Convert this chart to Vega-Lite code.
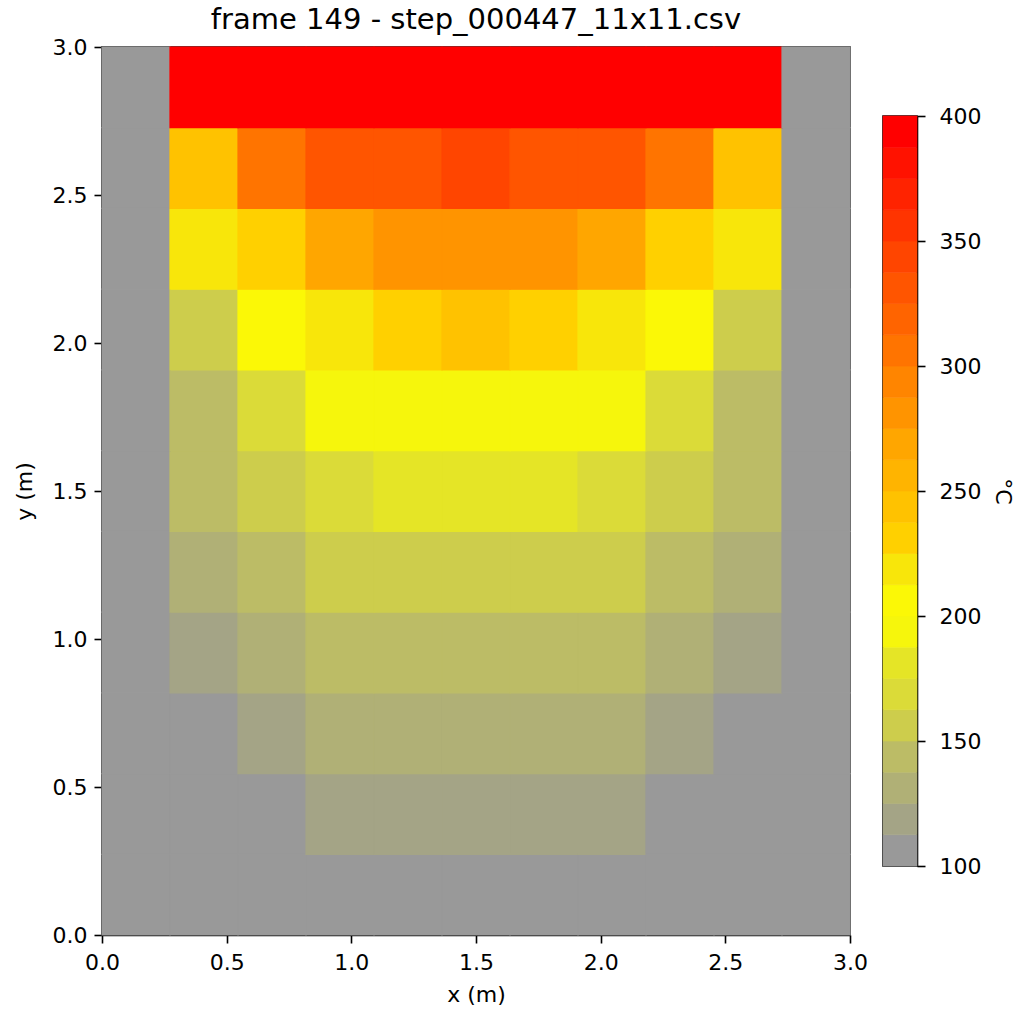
{
  "$schema": "https://vega.github.io/schema/vega-lite/v6.json",
  "background": "white",
  "padding": {"left": 12, "top": 5, "right": 5, "bottom": 5},
  "bounds": "flush",
  "center": true,
  "spacing": 33,
  "config": {
    "font": "DejaVu Sans",
    "view": {"stroke": "#000", "strokeWidth": 1.6},
    "axis": {
      "grid": false,
      "domainColor": "#000",
      "domainWidth": 1.6,
      "tickColor": "#000",
      "tickWidth": 1.6,
      "tickSize": 8,
      "labelFontSize": 22,
      "labelColor": "#000",
      "labelPadding": 7,
      "labelFlush": false,
      "labelOverlap": false,
      "labelBound": false,
      "titleFontSize": 22,
      "titleFontWeight": "normal",
      "titleColor": "#000"
    }
  },
  "hconcat": [
    {
      "title": {"text": "frame 149 - step_000447_11x11.csv", "fontSize": 29, "fontWeight": "normal", "color": "#000", "offset": 1},
      "width": 748,
      "height": 888,
      "data": {"values": [
        {"xa":0,"xb":0.2727,"ya":0,"yb":0.2727,"t":100},{"xa":0.2727,"xb":0.5455,"ya":0,"yb":0.2727,"t":100},{"xa":0.5455,"xb":0.8182,"ya":0,"yb":0.2727,"t":100},{"xa":0.8182,"xb":1.0909,"ya":0,"yb":0.2727,"t":100},{"xa":1.0909,"xb":1.3636,"ya":0,"yb":0.2727,"t":100},{"xa":1.3636,"xb":1.6364,"ya":0,"yb":0.2727,"t":100},{"xa":1.6364,"xb":1.9091,"ya":0,"yb":0.2727,"t":100},{"xa":1.9091,"xb":2.1818,"ya":0,"yb":0.2727,"t":100},{"xa":2.1818,"xb":2.4545,"ya":0,"yb":0.2727,"t":100},{"xa":2.4545,"xb":2.7273,"ya":0,"yb":0.2727,"t":100},{"xa":2.7273,"xb":3,"ya":0,"yb":0.2727,"t":100},
        {"xa":0,"xb":0.2727,"ya":0.2727,"yb":0.5455,"t":100},{"xa":0.2727,"xb":0.5455,"ya":0.2727,"yb":0.5455,"t":100},{"xa":0.5455,"xb":0.8182,"ya":0.2727,"yb":0.5455,"t":100},{"xa":0.8182,"xb":1.0909,"ya":0.2727,"yb":0.5455,"t":118},{"xa":1.0909,"xb":1.3636,"ya":0.2727,"yb":0.5455,"t":118},{"xa":1.3636,"xb":1.6364,"ya":0.2727,"yb":0.5455,"t":118},{"xa":1.6364,"xb":1.9091,"ya":0.2727,"yb":0.5455,"t":118},{"xa":1.9091,"xb":2.1818,"ya":0.2727,"yb":0.5455,"t":118},{"xa":2.1818,"xb":2.4545,"ya":0.2727,"yb":0.5455,"t":100},{"xa":2.4545,"xb":2.7273,"ya":0.2727,"yb":0.5455,"t":100},{"xa":2.7273,"xb":3,"ya":0.2727,"yb":0.5455,"t":100},
        {"xa":0,"xb":0.2727,"ya":0.5455,"yb":0.8182,"t":100},{"xa":0.2727,"xb":0.5455,"ya":0.5455,"yb":0.8182,"t":100},{"xa":0.5455,"xb":0.8182,"ya":0.5455,"yb":0.8182,"t":118},{"xa":0.8182,"xb":1.0909,"ya":0.5455,"yb":0.8182,"t":131},{"xa":1.0909,"xb":1.3636,"ya":0.5455,"yb":0.8182,"t":131},{"xa":1.3636,"xb":1.6364,"ya":0.5455,"yb":0.8182,"t":131},{"xa":1.6364,"xb":1.9091,"ya":0.5455,"yb":0.8182,"t":131},{"xa":1.9091,"xb":2.1818,"ya":0.5455,"yb":0.8182,"t":131},{"xa":2.1818,"xb":2.4545,"ya":0.5455,"yb":0.8182,"t":118},{"xa":2.4545,"xb":2.7273,"ya":0.5455,"yb":0.8182,"t":100},{"xa":2.7273,"xb":3,"ya":0.5455,"yb":0.8182,"t":100},
        {"xa":0,"xb":0.2727,"ya":0.8182,"yb":1.0909,"t":100},{"xa":0.2727,"xb":0.5455,"ya":0.8182,"yb":1.0909,"t":118},{"xa":0.5455,"xb":0.8182,"ya":0.8182,"yb":1.0909,"t":131},{"xa":0.8182,"xb":1.0909,"ya":0.8182,"yb":1.0909,"t":143},{"xa":1.0909,"xb":1.3636,"ya":0.8182,"yb":1.0909,"t":143},{"xa":1.3636,"xb":1.6364,"ya":0.8182,"yb":1.0909,"t":143},{"xa":1.6364,"xb":1.9091,"ya":0.8182,"yb":1.0909,"t":143},{"xa":1.9091,"xb":2.1818,"ya":0.8182,"yb":1.0909,"t":143},{"xa":2.1818,"xb":2.4545,"ya":0.8182,"yb":1.0909,"t":131},{"xa":2.4545,"xb":2.7273,"ya":0.8182,"yb":1.0909,"t":118},{"xa":2.7273,"xb":3,"ya":0.8182,"yb":1.0909,"t":100},
        {"xa":0,"xb":0.2727,"ya":1.0909,"yb":1.3636,"t":100},{"xa":0.2727,"xb":0.5455,"ya":1.0909,"yb":1.3636,"t":131},{"xa":0.5455,"xb":0.8182,"ya":1.0909,"yb":1.3636,"t":143},{"xa":0.8182,"xb":1.0909,"ya":1.0909,"yb":1.3636,"t":156},{"xa":1.0909,"xb":1.3636,"ya":1.0909,"yb":1.3636,"t":156},{"xa":1.3636,"xb":1.6364,"ya":1.0909,"yb":1.3636,"t":156},{"xa":1.6364,"xb":1.9091,"ya":1.0909,"yb":1.3636,"t":156},{"xa":1.9091,"xb":2.1818,"ya":1.0909,"yb":1.3636,"t":156},{"xa":2.1818,"xb":2.4545,"ya":1.0909,"yb":1.3636,"t":143},{"xa":2.4545,"xb":2.7273,"ya":1.0909,"yb":1.3636,"t":131},{"xa":2.7273,"xb":3,"ya":1.0909,"yb":1.3636,"t":100},
        {"xa":0,"xb":0.2727,"ya":1.3636,"yb":1.6364,"t":100},{"xa":0.2727,"xb":0.5455,"ya":1.3636,"yb":1.6364,"t":143},{"xa":0.5455,"xb":0.8182,"ya":1.3636,"yb":1.6364,"t":156},{"xa":0.8182,"xb":1.0909,"ya":1.3636,"yb":1.6364,"t":168},{"xa":1.0909,"xb":1.3636,"ya":1.3636,"yb":1.6364,"t":181},{"xa":1.3636,"xb":1.6364,"ya":1.3636,"yb":1.6364,"t":181},{"xa":1.6364,"xb":1.9091,"ya":1.3636,"yb":1.6364,"t":181},{"xa":1.9091,"xb":2.1818,"ya":1.3636,"yb":1.6364,"t":168},{"xa":2.1818,"xb":2.4545,"ya":1.3636,"yb":1.6364,"t":156},{"xa":2.4545,"xb":2.7273,"ya":1.3636,"yb":1.6364,"t":143},{"xa":2.7273,"xb":3,"ya":1.3636,"yb":1.6364,"t":100},
        {"xa":0,"xb":0.2727,"ya":1.6364,"yb":1.9091,"t":100},{"xa":0.2727,"xb":0.5455,"ya":1.6364,"yb":1.9091,"t":143},{"xa":0.5455,"xb":0.8182,"ya":1.6364,"yb":1.9091,"t":168},{"xa":0.8182,"xb":1.0909,"ya":1.6364,"yb":1.9091,"t":194},{"xa":1.0909,"xb":1.3636,"ya":1.6364,"yb":1.9091,"t":194},{"xa":1.3636,"xb":1.6364,"ya":1.6364,"yb":1.9091,"t":194},{"xa":1.6364,"xb":1.9091,"ya":1.6364,"yb":1.9091,"t":194},{"xa":1.9091,"xb":2.1818,"ya":1.6364,"yb":1.9091,"t":194},{"xa":2.1818,"xb":2.4545,"ya":1.6364,"yb":1.9091,"t":168},{"xa":2.4545,"xb":2.7273,"ya":1.6364,"yb":1.9091,"t":143},{"xa":2.7273,"xb":3,"ya":1.6364,"yb":1.9091,"t":100},
        {"xa":0,"xb":0.2727,"ya":1.9091,"yb":2.1818,"t":100},{"xa":0.2727,"xb":0.5455,"ya":1.9091,"yb":2.1818,"t":156},{"xa":0.5455,"xb":0.8182,"ya":1.9091,"yb":2.1818,"t":206},{"xa":0.8182,"xb":1.0909,"ya":1.9091,"yb":2.1818,"t":219},{"xa":1.0909,"xb":1.3636,"ya":1.9091,"yb":2.1818,"t":231},{"xa":1.3636,"xb":1.6364,"ya":1.9091,"yb":2.1818,"t":244},{"xa":1.6364,"xb":1.9091,"ya":1.9091,"yb":2.1818,"t":231},{"xa":1.9091,"xb":2.1818,"ya":1.9091,"yb":2.1818,"t":219},{"xa":2.1818,"xb":2.4545,"ya":1.9091,"yb":2.1818,"t":206},{"xa":2.4545,"xb":2.7273,"ya":1.9091,"yb":2.1818,"t":156},{"xa":2.7273,"xb":3,"ya":1.9091,"yb":2.1818,"t":100},
        {"xa":0,"xb":0.2727,"ya":2.1818,"yb":2.4545,"t":100},{"xa":0.2727,"xb":0.5455,"ya":2.1818,"yb":2.4545,"t":219},{"xa":0.5455,"xb":0.8182,"ya":2.1818,"yb":2.4545,"t":231},{"xa":0.8182,"xb":1.0909,"ya":2.1818,"yb":2.4545,"t":269},{"xa":1.0909,"xb":1.3636,"ya":2.1818,"yb":2.4545,"t":281},{"xa":1.3636,"xb":1.6364,"ya":2.1818,"yb":2.4545,"t":281},{"xa":1.6364,"xb":1.9091,"ya":2.1818,"yb":2.4545,"t":281},{"xa":1.9091,"xb":2.1818,"ya":2.1818,"yb":2.4545,"t":269},{"xa":2.1818,"xb":2.4545,"ya":2.1818,"yb":2.4545,"t":231},{"xa":2.4545,"xb":2.7273,"ya":2.1818,"yb":2.4545,"t":219},{"xa":2.7273,"xb":3,"ya":2.1818,"yb":2.4545,"t":100},
        {"xa":0,"xb":0.2727,"ya":2.4545,"yb":2.7273,"t":100},{"xa":0.2727,"xb":0.5455,"ya":2.4545,"yb":2.7273,"t":244},{"xa":0.5455,"xb":0.8182,"ya":2.4545,"yb":2.7273,"t":306},{"xa":0.8182,"xb":1.0909,"ya":2.4545,"yb":2.7273,"t":331},{"xa":1.0909,"xb":1.3636,"ya":2.4545,"yb":2.7273,"t":331},{"xa":1.3636,"xb":1.6364,"ya":2.4545,"yb":2.7273,"t":344},{"xa":1.6364,"xb":1.9091,"ya":2.4545,"yb":2.7273,"t":331},{"xa":1.9091,"xb":2.1818,"ya":2.4545,"yb":2.7273,"t":331},{"xa":2.1818,"xb":2.4545,"ya":2.4545,"yb":2.7273,"t":306},{"xa":2.4545,"xb":2.7273,"ya":2.4545,"yb":2.7273,"t":244},{"xa":2.7273,"xb":3,"ya":2.4545,"yb":2.7273,"t":100},
        {"xa":0,"xb":0.2727,"ya":2.7273,"yb":3,"t":100},{"xa":0.2727,"xb":0.5455,"ya":2.7273,"yb":3,"t":400},{"xa":0.5455,"xb":0.8182,"ya":2.7273,"yb":3,"t":400},{"xa":0.8182,"xb":1.0909,"ya":2.7273,"yb":3,"t":400},{"xa":1.0909,"xb":1.3636,"ya":2.7273,"yb":3,"t":400},{"xa":1.3636,"xb":1.6364,"ya":2.7273,"yb":3,"t":400},{"xa":1.6364,"xb":1.9091,"ya":2.7273,"yb":3,"t":400},{"xa":1.9091,"xb":2.1818,"ya":2.7273,"yb":3,"t":400},{"xa":2.1818,"xb":2.4545,"ya":2.7273,"yb":3,"t":400},{"xa":2.4545,"xb":2.7273,"ya":2.7273,"yb":3,"t":400},{"xa":2.7273,"xb":3,"ya":2.7273,"yb":3,"t":100}
      ]},
      "mark": {"type": "rect", "strokeWidth": 1.2},
      "encoding": {
        "x": {"field": "xa", "type": "quantitative", "scale": {"domain": [0, 3], "nice": false, "zero": false},
              "axis": {"values": [0, 0.5, 1, 1.5, 2, 2.5, 3], "format": ".1f", "title": "x (m)", "labelPadding": 9, "titlePadding": 11}},
        "x2": {"field": "xb"},
        "y": {"field": "ya", "type": "quantitative", "scale": {"domain": [0, 3], "nice": false, "zero": false},
              "axis": {"values": [0, 0.5, 1, 1.5, 2, 2.5, 3], "format": ".1f", "title": "y (m)", "titlePadding": 16}},
        "y2": {"field": "yb"},
        "color": {"field": "t", "type": "quantitative", "legend": null,
                  "scale": {"type": "quantize", "domain": [100, 400],
                            "range": ["#999999","#a4a486","#b0b076","#bcbc66","#cdcd4c","#dbdb38","#e5e526","#f6f60c","#fbf806","#f8e60a","#ffd000","#ffc200","#ffb400","#ffa600","#ff9400","#ff8500","#ff7400","#ff6400","#ff5500","#ff4500","#ff3400","#ff2300","#ff1200","#ff0000"]}},
        "stroke": {"field": "t", "type": "quantitative", "legend": null,
                  "scale": {"type": "quantize", "domain": [100, 400],
                            "range": ["#999999","#a4a486","#b0b076","#bcbc66","#cdcd4c","#dbdb38","#e5e526","#f6f60c","#fbf806","#f8e60a","#ffd000","#ffc200","#ffb400","#ffa600","#ff9400","#ff8500","#ff7400","#ff6400","#ff5500","#ff4500","#ff3400","#ff2300","#ff1200","#ff0000"]}}
      }
    },
    {
      "width": 34,
      "height": 750,
      "data": {"values": [
        {"lo":100,"hi":112.5,"t":106.25},{"lo":112.5,"hi":125,"t":118.75},{"lo":125,"hi":137.5,"t":131.25},{"lo":137.5,"hi":150,"t":143.75},
        {"lo":150,"hi":162.5,"t":156.25},{"lo":162.5,"hi":175,"t":168.75},{"lo":175,"hi":187.5,"t":181.25},{"lo":187.5,"hi":200,"t":193.75},
        {"lo":200,"hi":212.5,"t":206.25},{"lo":212.5,"hi":225,"t":218.75},{"lo":225,"hi":237.5,"t":231.25},{"lo":237.5,"hi":250,"t":243.75},
        {"lo":250,"hi":262.5,"t":256.25},{"lo":262.5,"hi":275,"t":268.75},{"lo":275,"hi":287.5,"t":281.25},{"lo":287.5,"hi":300,"t":293.75},
        {"lo":300,"hi":312.5,"t":306.25},{"lo":312.5,"hi":325,"t":318.75},{"lo":325,"hi":337.5,"t":331.25},{"lo":337.5,"hi":350,"t":343.75},
        {"lo":350,"hi":362.5,"t":356.25},{"lo":362.5,"hi":375,"t":368.75},{"lo":375,"hi":387.5,"t":381.25},{"lo":387.5,"hi":400,"t":393.75}
      ]},
      "mark": {"type": "rect", "strokeWidth": 0.6},
      "encoding": {
        "x": {"datum": 0, "type": "quantitative", "scale": {"domain": [0, 1], "nice": false}, "axis": null},
        "x2": {"datum": 1},
        "y": {"field": "lo", "type": "quantitative", "scale": {"domain": [100, 400], "nice": false, "zero": false},
              "axis": {"orient": "right", "values": [100, 150, 200, 250, 300, 350, 400], "format": "d", "title": "°C", "titleAngle": 90, "labelPadding": 14, "titlePadding": 10}},
        "y2": {"field": "hi"},
        "color": {"field": "t", "type": "quantitative", "legend": null,
                  "scale": {"type": "quantize", "domain": [100, 400],
                            "range": ["#999999","#a4a486","#b0b076","#bcbc66","#cdcd4c","#dbdb38","#e5e526","#f6f60c","#fbf806","#f8e60a","#ffd000","#ffc200","#ffb400","#ffa600","#ff9400","#ff8500","#ff7400","#ff6400","#ff5500","#ff4500","#ff3400","#ff2300","#ff1200","#ff0000"]}},
        "stroke": {"field": "t", "type": "quantitative", "legend": null,
                  "scale": {"type": "quantize", "domain": [100, 400],
                            "range": ["#999999","#a4a486","#b0b076","#bcbc66","#cdcd4c","#dbdb38","#e5e526","#f6f60c","#fbf806","#f8e60a","#ffd000","#ffc200","#ffb400","#ffa600","#ff9400","#ff8500","#ff7400","#ff6400","#ff5500","#ff4500","#ff3400","#ff2300","#ff1200","#ff0000"]}}
      }
    }
  ],
  "resolve": {"scale": {"color": "independent", "stroke": "independent"}}
}
